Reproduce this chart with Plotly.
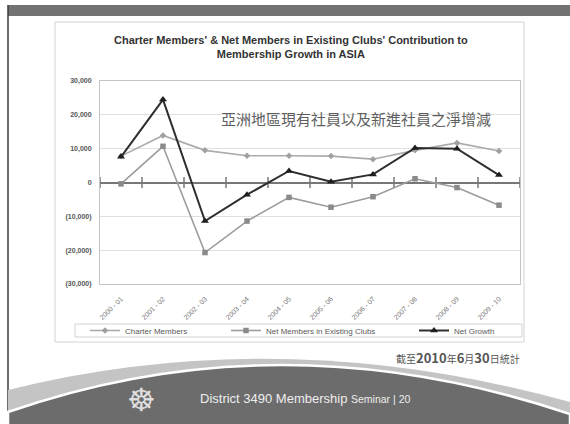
import plotly.graph_objects as go

# ---------------- data ----------------
categories = ["2000 - 01", "2001 - 02", "2002 - 03", "2003 - 04", "2004 - 05",
              "2005 - 06", "2006 - 07", "2007 - 08", "2008 - 09", "2009 - 10"]
charter_members = [7800, 13900, 9500, 7900, 7900, 7800, 6900, 9500, 11700, 9300]
net_existing = [-400, 10700, -20700, -11400, -4400, -7300, -4200, 1100, -1500, -6700]
net_growth = [7600, 24500, -11400, -3600, 3400, 200, 2400, 10200, 10000, 2200]
y_tick_vals = [30000, 20000, 10000, 0, -10000, -20000, -30000]
y_tick_text = ["30,000", "20,000", "10,000", "0", "(10,000)", "(20,000)", "(30,000)"]

title_text = ("<b>Charter Members' & Net Members in Existing Clubs' Contribution to<br>"
              "Membership Growth in ASIA</b>")
note_cn = "亞洲地區現有社員以及新進社員之淨增減"

# ---------------- geometry helpers (pixel -> paper) ----------------
W, H = 570, 424
ML, MR, MT, MB = 100, 50, 81, 140
PW, PH = W - ML - MR, H - MT - MB


def X(px):
    return (px - ML) / PW


def Y(py):
    return (H - MB - py) / PH


xs = list(range(len(categories)))
boundaries = [i - 0.5 for i in range(len(categories) + 1)]

fig = go.Figure()

fig.add_trace(go.Scatter(
    x=boundaries, y=[0] * len(boundaries), mode="markers",
    marker=dict(symbol="line-ns", size=8, line=dict(width=1.5, color="#777777")),
    showlegend=False, hoverinfo="skip"))

fig.add_trace(go.Scatter(
    x=xs, y=charter_members, name="Charter Members", mode="lines+markers",
    line=dict(color="#ababab", width=1.6),
    marker=dict(symbol="diamond", size=5, color="#a0a0a0"),
    legend="legend"))
fig.add_trace(go.Scatter(
    x=xs, y=net_existing, name="Net Members in Existing Clubs", mode="lines+markers",
    line=dict(color="#9c9c9c", width=1.6),
    marker=dict(symbol="square", size=5.5, color="#8a8a8a"),
    legend="legend2"))
fig.add_trace(go.Scatter(
    x=xs, y=net_growth, name="Net Growth", mode="lines+markers",
    line=dict(color="#2e2e2e", width=2),
    marker=dict(symbol="triangle-up", size=7, color="#1e1e1e"),
    legend="legend3"))

legend_common = dict(orientation="h", yanchor="middle", xanchor="left",
                     font=dict(family="Liberation Sans, Arial", size=8, color="#5a5a5a"),
                     bgcolor="rgba(0,0,0,0)", borderwidth=0,
                     itemwidth=30, tracegroupgap=0)

shapes = [
    # top bar
    dict(type="rect", xref="paper", yref="paper", x0=X(8), x1=X(570), y0=Y(16), y1=Y(5),
         fillcolor="#727272", line=dict(width=0), layer="below"),
    # left border
    dict(type="line", xref="paper", yref="paper", x0=X(8), x1=X(8), y0=Y(424), y1=Y(5),
         line=dict(color="#3c3c3c", width=1.5)),
    # chart box
    dict(type="rect", xref="paper", yref="paper", x0=X(55), x1=X(524), y0=Y(342), y1=Y(22),
         line=dict(color="#d2d2d2", width=1), layer="below"),
    # legend box
    dict(type="rect", xref="paper", yref="paper", x0=X(75), x1=X(522), y0=Y(337), y1=Y(324),
         line=dict(color="#d2d2d2", width=1), layer="below"),
    # light band
    dict(type="path", xref="paper", yref="paper",
         path=(f"M {X(8)},{Y(390)} Q {X(281)},{Y(322)} {X(570)},{Y(402)} "
               f"L {X(570)},{Y(424)} L {X(8)},{Y(424)} Z"),
         fillcolor="#c4c4c4", line=dict(width=0)),
    # dark band
    dict(type="path", xref="paper", yref="paper",
         path=(f"M {X(8)},{Y(412)} Q {X(281)},{Y(317)} {X(570)},{Y(414)} "
               f"L {X(570)},{Y(426)} L {X(8)},{Y(426)} Z"),
         fillcolor="#6c6c6c", line=dict(color="#ffffff", width=2.5)),
]

annotations = [
    dict(text=title_text, x=X(291), y=Y(47), xref="paper", yref="paper",
         showarrow=False, xanchor="center", yanchor="middle",
         font=dict(family="Liberation Sans, Arial", size=11, color="#333333")),
    dict(text=note_cn, x=X(356), y=Y(118), xref="paper", yref="paper",
         showarrow=False, xanchor="center", yanchor="middle",
         font=dict(family="Noto Sans CJK TC", size=15, color="#5e5e5e")),
    dict(text=("<span style='font-size:10px'>截至</span><b>2010</b>"
               "<span style='font-size:10px'>年</span><b>6</b>"
               "<span style='font-size:10px'>月</span><b>30</b>"
               "<span style='font-size:10px'>日統計</span>"),
         x=X(522), y=Y(357), xref="paper", yref="paper",
         showarrow=False, xanchor="right", yanchor="middle",
         font=dict(family="Noto Sans CJK TC", size=13, color="#555555")),
    dict(text="☸", x=X(141), y=Y(400), xref="paper", yref="paper",
         showarrow=False, xanchor="center", yanchor="middle",
         font=dict(family="DejaVu Sans", size=32, color="#dedede")),
    dict(text="District 3490 Membership <span style='font-size:10.5px'>Seminar | 20</span>",
         x=X(198), y=Y(398), xref="paper", yref="paper",
         showarrow=False, xanchor="left", yanchor="middle",
         font=dict(family="Liberation Sans, Arial", size=13, color="#eeeeee")),
]

fig.update_layout(
    width=W, height=H,
    margin=dict(l=ML, r=MR, t=MT, b=MB, pad=0),
    paper_bgcolor="white", plot_bgcolor="white",
    showlegend=True,
    legend=dict(x=X(85), y=Y(330.5), **legend_common),
    legend2=dict(x=X(226), y=Y(330.5), **legend_common),
    legend3=dict(x=X(414), y=Y(330.5), **legend_common),
    shapes=shapes,
    annotations=annotations,
    xaxis=dict(range=[-0.5, len(categories) - 0.5], tickvals=xs, ticktext=categories,
               tickangle=-45, showgrid=False, zeroline=False,
               showline=True, mirror=True, linecolor="#c4c4c4", linewidth=1,
               ticks="", ticklabelstandoff=7,
               tickfont=dict(family="Liberation Sans, Arial", size=7, color="#777777")),
    yaxis=dict(range=[-30000, 30000], tickvals=y_tick_vals, ticktext=y_tick_text,
               showgrid=True, gridcolor="#e0e0e0", gridwidth=1,
               zeroline=True, zerolinecolor="#777777", zerolinewidth=2,
               showline=True, mirror=True, linecolor="#c4c4c4", linewidth=1,
               ticks="", ticklabelstandoff=6,
               tickfont=dict(family="Liberation Sans, Arial", size=7, color="#555555",
                             weight="bold")),
)

fig.write_html("out.html", config={"displayModeBar": False},
               post_script="document.body.style.margin='0';")
